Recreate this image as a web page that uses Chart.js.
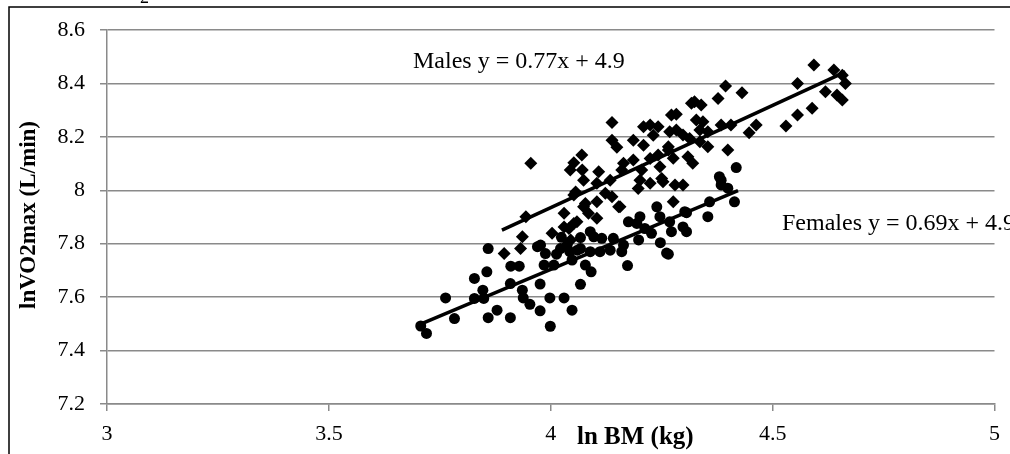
<!DOCTYPE html>
<html>
<head>
<meta charset="utf-8">
<script src="https://cdn.jsdelivr.net/npm/chart.js@4"></script>
<style>
  body { margin: 0; background: #fff; }
  canvas { display: block; }
</style>
</head>
<body>
<canvas id="grafico" width="1010" height="454"></canvas>
<script>
// ln BM (kg) vs lnVO2max (L/min)
const xTicks = [3, 3.5, 4, 4.5, 5];
const yTicks = [7.2, 7.4, 7.6, 7.8, 8, 8.2, 8.4, 8.6];

const machosX = [3.955, 4.138, 4.138, 4.149, 4.186, 4.070, 4.052, 4.044, 4.071, 4.074,
  4.108, 4.056, 4.160, 4.186, 4.209, 4.224, 4.242, 4.231, 4.209, 4.224,
  4.242, 4.246, 4.205, 4.201, 4.224, 4.253, 4.197, 4.272, 4.268, 4.265,
  4.138, 4.104, 4.134, 4.156, 4.030, 4.052, 4.074, 4.003, 3.936, 3.944,
  3.895, 3.932, 4.276, 4.298, 4.280, 4.317, 4.030, 4.593, 4.556, 4.638,
  4.657, 4.664, 4.619, 4.645, 4.657, 4.589, 4.556, 4.530, 4.463, 4.447,
  4.406, 4.394, 4.431, 4.377, 4.324, 4.339, 4.283, 4.328, 4.343, 4.384,
  4.283, 4.298, 4.354, 4.336, 4.313, 4.336, 4.354, 4.399, 4.265, 4.309,
  4.320, 4.276, 4.250, 4.059, 4.041, 4.052, 4.078, 4.045, 4.085, 4.104,
  4.164, 4.104, 4.123, 4.153];
const machosY = [8.101, 8.254, 8.187, 8.161, 8.187, 8.132, 8.103, 8.076, 8.076, 8.038,
  8.069, 7.994, 8.076, 8.113, 8.238, 8.244, 8.238, 8.206, 8.169, 8.119,
  8.132, 8.088, 8.076, 8.038, 8.026, 8.032, 8.007, 8.282, 8.219, 8.151,
  7.976, 7.957, 8.038, 7.938, 7.914, 7.876, 7.938, 7.839, 7.826, 7.901,
  7.763, 7.782, 7.957, 8.020, 8.020, 8.326, 7.863, 8.469, 8.400, 8.450,
  8.431, 8.400, 8.369, 8.357, 8.338, 8.307, 8.282, 8.241, 8.244, 8.215,
  8.244, 8.390, 8.365, 8.344, 8.331, 8.319, 8.285, 8.263, 8.257, 8.244,
  8.226, 8.207, 8.219, 8.226, 8.194, 8.182, 8.163, 8.151, 8.163, 8.126,
  8.101, 8.120, 8.044, 7.882, 7.857, 7.982, 7.951, 7.814, 7.914, 7.895,
  8.101, 8.026, 7.989, 7.938];

const femeasX = [3.707, 3.720, 3.763, 3.783, 3.828, 3.856, 3.859, 3.847, 3.828, 3.849,
  3.859, 3.879, 3.909, 3.910, 3.929, 3.909, 3.936, 3.938, 3.953, 3.976,
  3.999, 3.976, 3.998, 4.030, 4.048, 3.970, 3.988, 4.013, 3.985, 4.007,
  4.024, 4.043, 4.067, 4.091, 4.078, 4.067, 4.089, 3.977, 4.060, 4.173,
  4.048, 4.022, 4.037, 4.067, 4.089, 4.111, 4.134, 4.160, 4.097, 4.115,
  4.141, 4.164, 4.198, 4.194, 4.175, 4.201, 4.212, 4.227, 4.246, 4.268,
  4.272, 4.298, 4.306, 4.247, 4.265, 4.239, 4.302, 4.354, 4.358, 4.414,
  4.380, 4.384, 4.399, 4.418, 4.384, 4.306, 4.261];
const femeasY = [7.492, 7.464, 7.597, 7.520, 7.670, 7.695, 7.782, 7.626, 7.595, 7.595,
  7.523, 7.551, 7.523, 7.716, 7.716, 7.651, 7.626, 7.597, 7.573, 7.549,
  7.491, 7.649, 7.597, 7.597, 7.551, 7.789, 7.763, 7.761, 7.720, 7.720,
  7.824, 7.770, 7.648, 7.695, 7.720, 7.823, 7.845, 7.795, 7.776, 7.718,
  7.739, 7.782, 7.795, 7.782, 7.770, 7.770, 7.776, 7.770, 7.826, 7.820,
  7.820, 7.795, 7.814, 7.876, 7.882, 7.901, 7.857, 7.839, 7.901, 7.882,
  7.845, 7.863, 7.845, 7.804, 7.761, 7.938, 7.920, 7.901, 7.957, 7.957,
  8.051, 8.020, 8.008, 8.085, 8.038, 7.916, 7.765];

// trend lines (ends)
const linhaMachosX = [3.89, 4.664];
const linhaMachosY = [7.851, 8.443];
const linhaFemeasX = [3.712, 4.422];
const linhaFemeasY = [7.503, 7.999];

const textoMachos = 'Males y = 0.77x + 4.9';
const textoFemeas = 'Females y = 0.69x + 4.9';
const tituloX = 'ln BM (kg)';
const tituloY = 'lnVO2max (L/min)';

function pontos(xs, ys) {
    return xs.map(function (x, i) { return { x: x, y: ys[i] }; });
}

const fonteSerif = '"Liberation Serif", "Times New Roman", serif';
const cinza = '#8a8a8a';

// moldura, rotulos e equacoes
const extras = {
    id: 'extras',
    afterDraw: function (chart) {
        var ctx = chart.ctx;
        ctx.save();
        ctx.strokeStyle = '#000';
        ctx.lineWidth = 1.5;
        ctx.beginPath();
        ctx.moveTo(9, 454);
        ctx.lineTo(9, 7);
        ctx.lineTo(1010, 7);
        ctx.stroke();

        ctx.fillStyle = '#000';
        ctx.textBaseline = 'alphabetic';
        ctx.textAlign = 'left';
        ctx.font = '18px ' + fonteSerif;
        ctx.fillText('2', 140, 3);

        ctx.font = '24px ' + fonteSerif;
        ctx.fillText(textoMachos, 413, 68);
        ctx.fillText(textoFemeas, 782, 230);

        ctx.font = 'bold 25px ' + fonteSerif;
        ctx.textBaseline = 'middle';
        ctx.fillText(tituloX, 577, 438);

        ctx.font = 'bold 23px ' + fonteSerif;
        ctx.translate(29, 215);
        ctx.rotate(-Math.PI / 2);
        ctx.textAlign = 'center';
        ctx.fillText(tituloY, 0, 0);
        ctx.restore();
    }
};

var grafico = document.getElementById('grafico');
new Chart(grafico, {
    type: 'scatter',
    data: {
        datasets: [{
            label: 'Males',
            data: pontos(machosX, machosY),
            pointStyle: 'rectRot',
            pointRadius: 6.5,
            pointBorderWidth: 0,
            backgroundColor: '#000',
            borderColor: '#000'
        }, {
            label: 'Females',
            data: pontos(femeasX, femeasY),
            pointStyle: 'circle',
            pointRadius: 5.5,
            pointBorderWidth: 0,
            backgroundColor: '#000',
            borderColor: '#000'
        }, {
            label: 'Males trend',
            data: pontos(linhaMachosX, linhaMachosY),
            showLine: true,
            borderColor: '#000',
            borderWidth: 3.5,
            pointRadius: 0
        }, {
            label: 'Females trend',
            data: pontos(linhaFemeasX, linhaFemeasY),
            showLine: true,
            borderColor: '#000',
            borderWidth: 3.5,
            pointRadius: 0
        }]
    },
    options: {
        responsive: false,
        animation: false,
        devicePixelRatio: 1,
        layout: { padding: { left: 0, right: 12, top: 30, bottom: 0 } },
        plugins: {
            legend: { display: false },
            tooltip: { enabled: false }
        },
        scales: {
            x: {
                type: 'linear',
                min: 3,
                max: 5,
                afterBuildTicks: function (s) { s.ticks = xTicks.map(function (v) { return { value: v }; }); },
                afterFit: function (s) { s.height = 50; },
                ticks: {
                    color: '#000',
                    font: { family: fonteSerif, size: 22 },
                    padding: 10,
                    maxRotation: 0,
                    callback: function (v) { return String(v); }
                },
                grid: { drawOnChartArea: false, tickLength: 7, color: cinza, lineWidth: 1.5 },
                border: { display: true, color: cinza, width: 1.5 }
            },
            y: {
                min: 7.2,
                max: 8.6,
                afterBuildTicks: function (s) { s.ticks = yTicks.map(function (v) { return { value: v }; }); },
                afterFit: function (s) { s.width = 107; },
                ticks: {
                    color: '#000',
                    font: { family: fonteSerif, size: 22 },
                    padding: 15,
                    callback: function (v) { return String(v); }
                },
                grid: { color: cinza, lineWidth: 1.5, tickLength: 7 },
                border: { display: true, color: cinza, width: 1.5 }
            }
        }
    },
    plugins: [extras]
});
</script>
</body>
</html>
